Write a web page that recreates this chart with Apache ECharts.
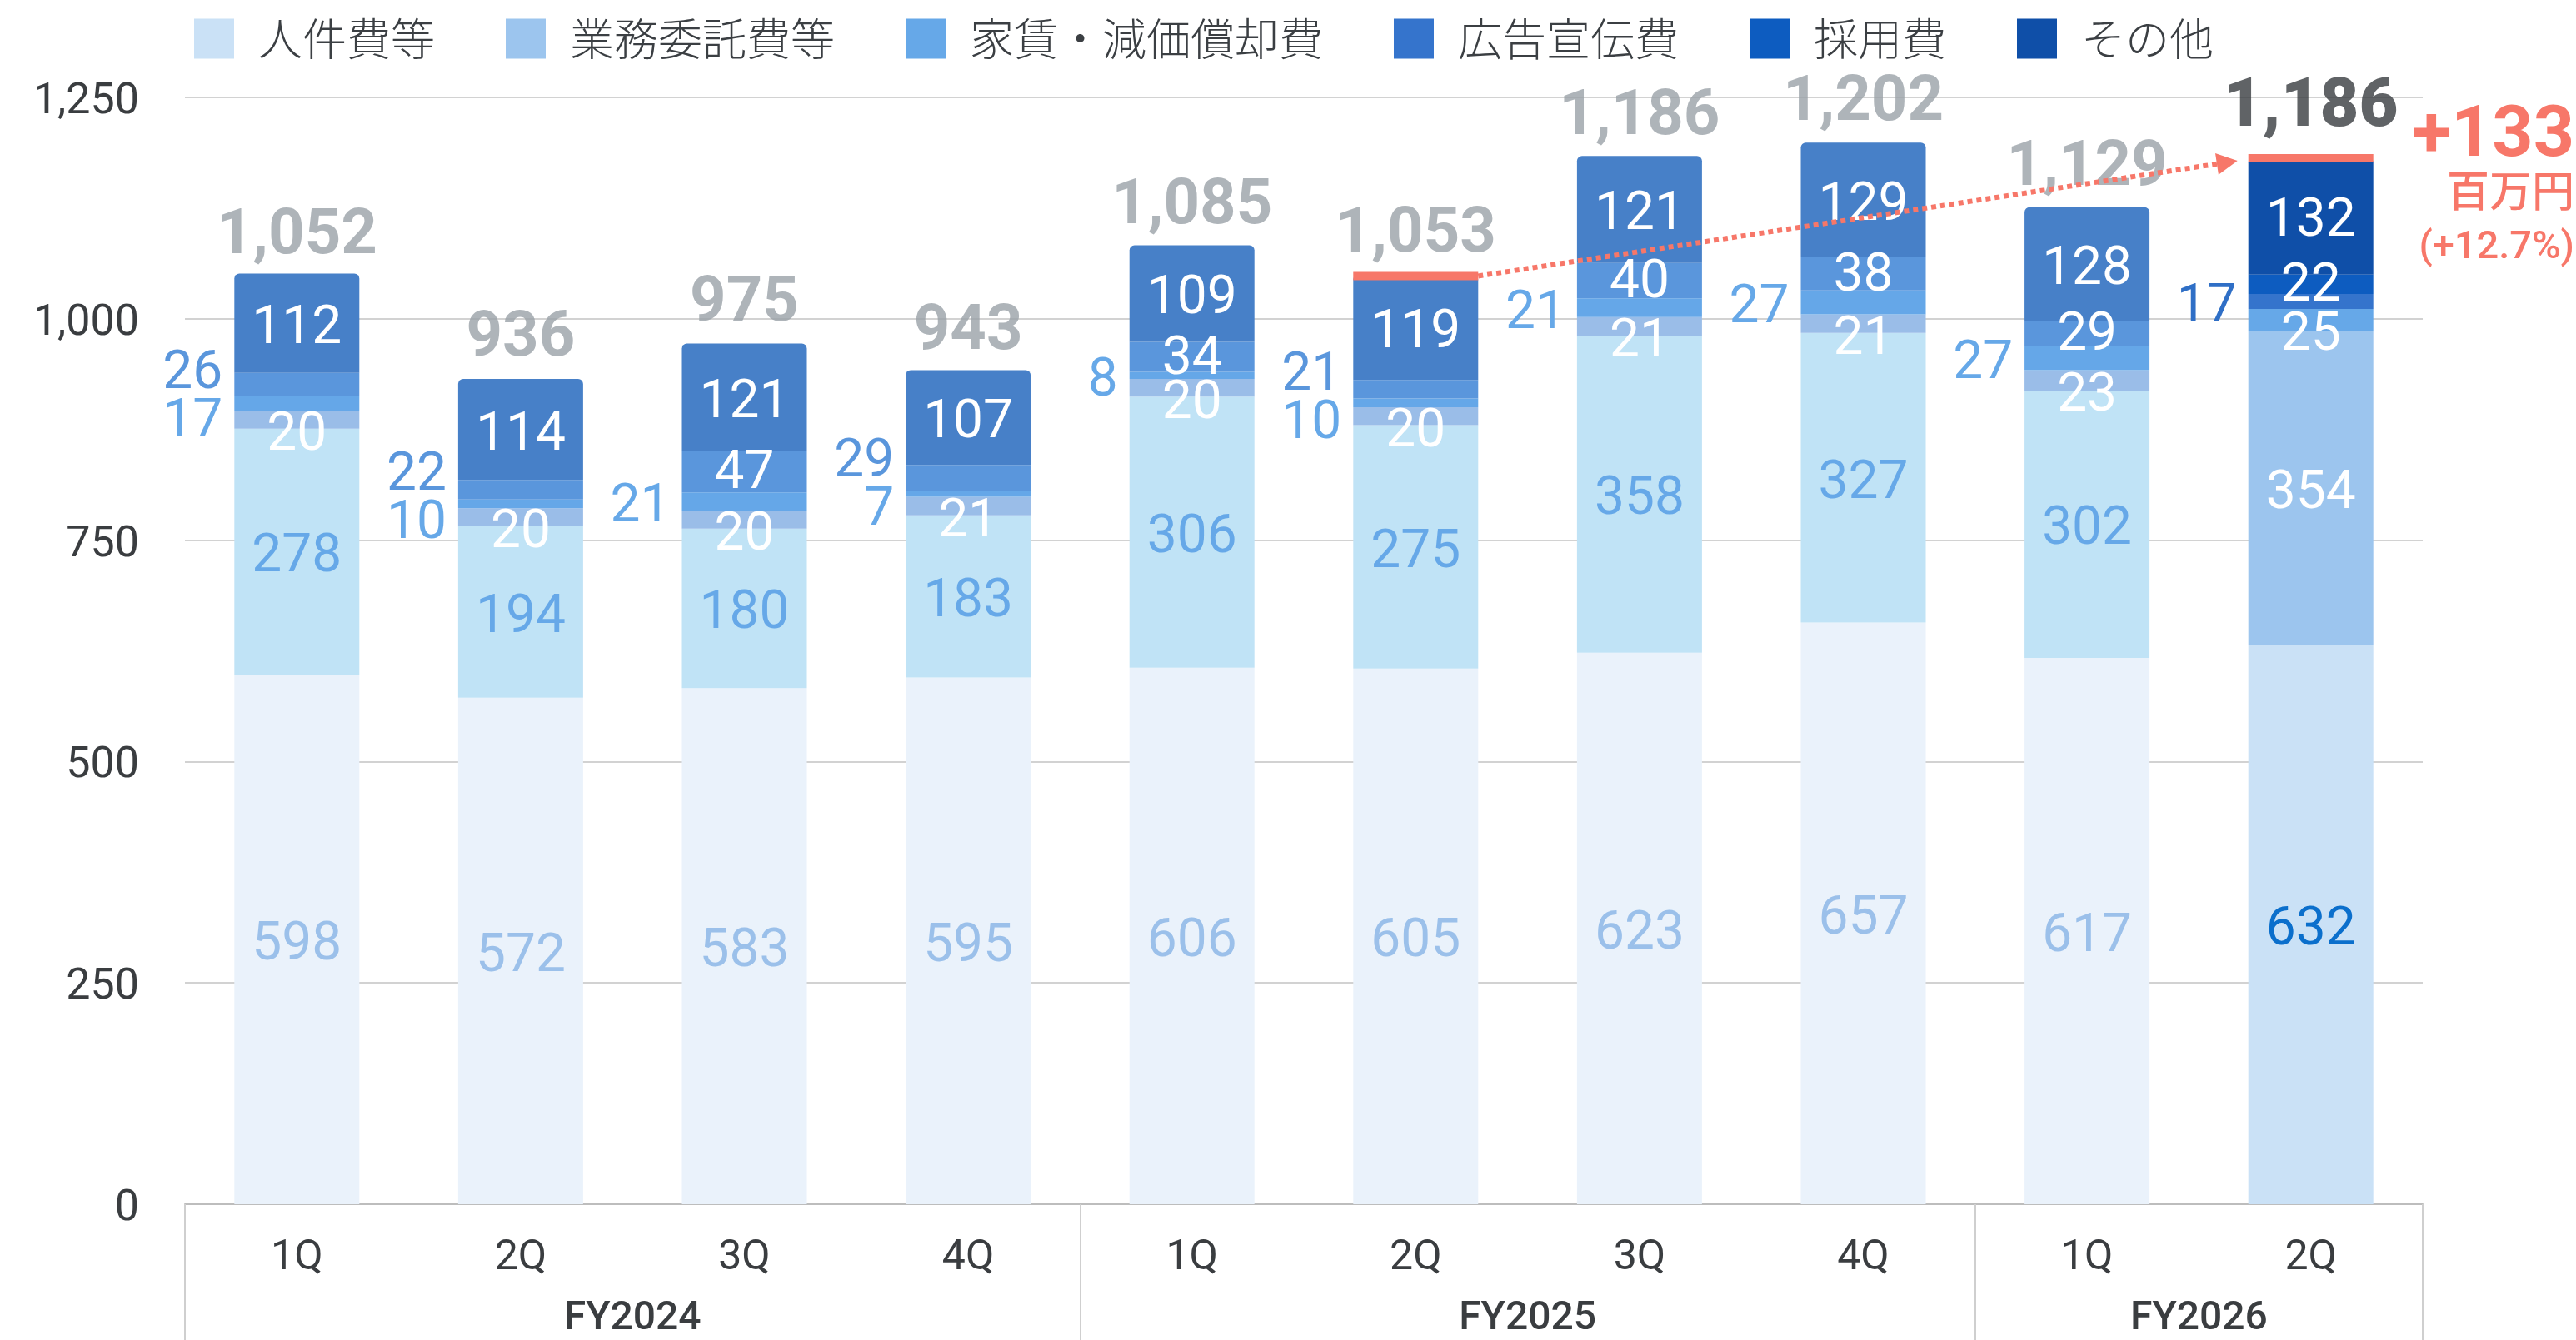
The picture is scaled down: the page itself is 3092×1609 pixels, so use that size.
<!DOCTYPE html>
<html>
<head>
<meta charset="utf-8">
<title>販管費の推移</title>
<script src="https://cdn.jsdelivr.net/npm/echarts@6/dist/echarts.min.js"></script>
<style>
  html, body { margin: 0; padding: 0; background: #ffffff; }
  #chart { width: 3092px; height: 1609px; }
</style>
</head>
<body>
<div id="chart"></div>
<script>
// ---- Quarterly SG&A breakdown (百万円) ----
const quarters    = ['1Q', '2Q', '3Q', '4Q', '1Q', '2Q', '3Q', '4Q', '1Q', '2Q'];
const fiscalYears = ['FY2024', 'FY2024', 'FY2024', 'FY2024', 'FY2025', 'FY2025', 'FY2025', 'FY2025', 'FY2026', 'FY2026'];

const seriesNames = ['人件費等', '業務委託費等', '家賃・減価償却費', '広告宣伝費', '採用費', 'その他'];

const personnel        = [598, 572, 583, 595, 606, 605, 623, 657, 617, 632];
const outsourcing      = [278, 194, 180, 183, 306, 275, 358, 327, 302, 354];
const rentDepreciation = [20, 20, 20, 21, 20, 20, 21, 21, 23, 25];
const advertising      = [17, 10, 21, 7, 8, 10, 21, 27, 27, 17];
const recruiting       = [26, 22, 47, 29, 34, 21, 40, 38, 29, 22];
const other            = [112, 114, 121, 107, 109, 119, 121, 129, 128, 132];
const totals           = [1052, 936, 975, 943, 1085, 1053, 1186, 1202, 1129, 1186];

const yTicks = [0, 250, 500, 750, 1000, 1250];

// Year-on-year comparison: same quarter of the previous year vs. current quarter
const compareFrom = 5;
const compareTo = 9;
const growthPct = 12.7;

// ---- Styling ----
const FONT = 'Roboto, "Noto Sans CJK JP", sans-serif';
const CJK_FONT = '"Noto Sans CJK JP", sans-serif';
const TEXT = '#3a3d40';
const ACCENT = '#f77769';
const BAR_W = 150;
const CAP_H = 10;
const LABEL_SHIFT = 8;          // nudges Roboto digits onto the visual centre
const GRID = { left: 222, right: 184, top: 117, bottom: 163 };
const PX_PER_UNIT = (1609 - GRID.top - GRID.bottom) / yTicks[yTicks.length - 1];

const fullColors  = ['#cae1f6', '#9cc5ee', '#66a8e8', '#3574cc', '#0d5cc0', '#0f4fa8'];
const fadedColors = ['#eaf2fb', '#c0e3f6', '#9abde8', '#65a7e8', '#5a96dc', '#4780c8'];
// 採用費 label drawn beside the bar where the segment is too thin
const recruitingOutside = [true, true, false, true, false, true, false, false, false, false];

const values = [personnel, outsourcing, rentDepreciation, advertising, recruiting, other];
const categories = quarters.map((q, i) => fiscalYears[i] + ' ' + q);

// fiscal-year groups for the second axis row
const groups = [];
fiscalYears.forEach((fy, i) => {
  const g = groups[groups.length - 1];
  if (g && g.name === fy) g.end = i + 1;
  else groups.push({ name: fy, start: i, end: i + 1 });
});
const groupEdges = [0].concat(groups.map(g => g.end));
const groupCenters = groups.map(g => (g.start + g.end) / 2);

function segmentLabel(s, i) {
  const hl = i === compareTo;
  const base = { show: true, fontSize: 64, fontFamily: FONT, fontWeight: 400 };
  switch (s) {
    case 0:
      return Object.assign(base, { position: 'inside', color: hl ? '#0b6fcc' : '#9bc0ea', offset: [0, LABEL_SHIFT] });
    case 1:
      return Object.assign(base, { position: 'inside', color: hl ? '#ffffff' : '#66a8e8', offset: [0, LABEL_SHIFT] });
    case 2:
      return Object.assign(base, { position: 'inside', color: '#ffffff', offset: [0, 12 + LABEL_SHIFT] });
    case 3: {
      const pair = !hl && recruitingOutside[i];
      const dy = pair ? -recruiting[i] * PX_PER_UNIT / 2 + 29 : 0;
      return Object.assign(base, { position: 'left', distance: 14, color: hl ? '#2f6fc6' : '#66a8e8', offset: [0, dy + LABEL_SHIFT] });
    }
    case 4: {
      if (!hl && recruitingOutside[i]) {
        const dy = advertising[i] * PX_PER_UNIT / 2 - 29;
        return Object.assign(base, { position: 'left', distance: 14, color: '#5a96dc', offset: [0, dy + LABEL_SHIFT] });
      }
      return Object.assign(base, { position: 'inside', color: '#ffffff', offset: [0, -4 + LABEL_SHIFT] });
    }
    default:
      return Object.assign(base, { position: 'inside', color: '#ffffff', offset: [0, LABEL_SHIFT] });
  }
}

const barSeries = seriesNames.map((name, s) => ({
  name: name,
  type: 'bar',
  stack: 'cost',
  barWidth: BAR_W,
  itemStyle: {
    color: fullColors[s],
    borderRadius: s === seriesNames.length - 1 ? [6, 6, 0, 0] : 0
  },
  data: values[s].map((v, i) => ({
    value: v,
    itemStyle: { color: i === compareTo ? fullColors[s] : fadedColors[s] },
    label: segmentLabel(s, i)
  })),
  z: 2
}));

const totalSeries = {
  name: '合計',
  type: 'scatter',
  symbolSize: 0,
  silent: true,
  z: 5,
  data: totals.map((v, i) => ({
    value: v,
    label: i === compareTo
      ? { color: '#383c40', fontWeight: 900, fontSize: 81, distance: 14 }
      : { color: '#9aa1a8', fontWeight: 700, fontSize: 76, distance: 5 }
  })),
  label: {
    show: true,
    position: 'top',
    fontFamily: FONT,
    formatter: p => p.value.toLocaleString('en-US')
  }
};

const capSeries = {
  name: 'cap',
  type: 'custom',
  silent: true,
  z: 6,
  encode: { x: 0, y: 1 },
  data: [[compareFrom, totals[compareFrom]], [compareTo, totals[compareTo]]],
  renderItem: (params, api) => {
    const p = api.coord([api.value(0), api.value(1)]);
    return {
      type: 'rect',
      shape: { x: p[0] - BAR_W / 2, y: p[1], width: BAR_W, height: CAP_H },
      style: { fill: ACCENT }
    };
  }
};

const arrowSeries = {
  name: 'arrow',
  type: 'custom',
  silent: true,
  z: 10,
  encode: { x: [0, 2], y: [1, 3] },
  data: [[compareFrom, totals[compareFrom], compareTo, totals[compareTo]]],
  renderItem: (params, api) => {
    const a = api.coord([api.value(0), api.value(1)]);
    const b = api.coord([api.value(2), api.value(3)]);
    const x0 = a[0] + BAR_W / 2, y0 = a[1] + CAP_H / 2;
    const tipX = b[0] - BAR_W / 2 - 13, tipY = b[1] + CAP_H / 2 + 3;
    const ang = Math.atan2(tipY - y0, tipX - x0);
    const headLen = 25, headHalf = 13;
    const bx = tipX - headLen * Math.cos(ang), by = tipY - headLen * Math.sin(ang);
    const nx = -Math.sin(ang) * headHalf, ny = Math.cos(ang) * headHalf;
    return {
      type: 'group',
      children: [
        { type: 'line', shape: { x1: x0, y1: y0, x2: bx, y2: by },
          style: { stroke: ACCENT, lineWidth: 6, lineDash: [6, 5] } },
        { type: 'polygon', shape: { points: [[tipX, tipY], [bx + nx, by + ny], [bx - nx, by - ny]] },
          style: { fill: ACCENT } }
      ]
    };
  }
};

const diff = totals[compareTo] - totals[compareFrom];

const option = {
  animation: false,
  backgroundColor: '#ffffff',
  textStyle: { fontFamily: FONT },
  legend: {
    data: seriesNames,
    left: 228,
    top: 15,
    icon: 'rect',
    itemWidth: 48,
    itemHeight: 48,
    itemGap: 85,
    selectedMode: false,
    textStyle: { fontSize: 53, fontWeight: 300, color: '#3b3f43', fontFamily: CJK_FONT, padding: [0, 0, 0, 24] }
  },
  grid: GRID,
  xAxis: [
    {
      type: 'category',
      data: categories,
      axisLine: { lineStyle: { color: '#bdbdbd', width: 2 } },
      axisTick: { show: false },
      axisLabel: {
        fontSize: 50,
        color: TEXT,
        margin: 40,
        formatter: (v, i) => quarters[i]
      }
    },
    {
      type: 'value',
      min: 0,
      max: quarters.length,
      position: 'bottom',
      axisLine: { show: false },
      splitLine: { show: false },
      axisTick: { show: true, customValues: groupEdges, length: 163, lineStyle: { color: '#cfcfcf', width: 2 } },
      axisLabel: {
        customValues: groupCenters,
        fontSize: 48,
        fontWeight: 500,
        color: TEXT,
        margin: 114,
        formatter: v => {
          const k = groupCenters.indexOf(v);
          return k >= 0 ? groups[k].name : '';
        }
      }
    }
  ],
  yAxis: {
    type: 'value',
    min: yTicks[0],
    max: yTicks[yTicks.length - 1],
    interval: yTicks[1] - yTicks[0],
    axisLine: { show: false },
    axisTick: { show: false },
    axisLabel: {
      fontSize: 52, color: TEXT, margin: 55,
      // thin line box anchored at the tick keeps the digits centred slightly below the grid line
      verticalAlign: 'top', lineHeight: 12,
      formatter: v => v.toLocaleString('en-US')
    },
    splitLine: { lineStyle: { color: '#d2d2d2', width: 2 } }
  },
  series: barSeries.concat([totalSeries, capSeries, arrowSeries]),
  graphic: [
    { type: 'text', x: 3090, y: 165, z: 20,
      style: { text: '+' + diff, fill: ACCENT, font: '700 86px ' + FONT, align: 'right', verticalAlign: 'middle' } },
    { type: 'text', x: 3090, y: 229, z: 20,
      style: { text: '百万円', fill: ACCENT, font: '500 51px ' + CJK_FONT, align: 'right', verticalAlign: 'middle' } },
    { type: 'text', x: 3090, y: 298, z: 20,
      style: { text: '(+' + growthPct.toFixed(1) + '%)', fill: ACCENT, font: '500 47px ' + FONT, align: 'right', verticalAlign: 'middle' } }
  ]
};

const chart = echarts.init(document.getElementById('chart'), null, { renderer: 'canvas' });
chart.setOption(option);
</script>
</body>
</html>
